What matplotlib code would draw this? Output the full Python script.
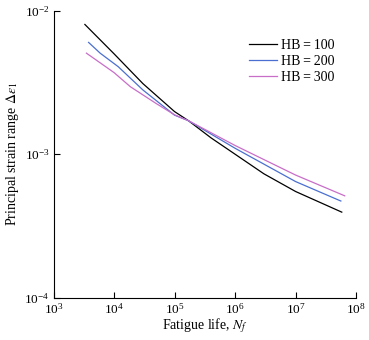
import matplotlib
matplotlib.use("Agg")
import matplotlib.pyplot as plt

plt.rcParams["font.family"] = ["Liberation Serif", "DejaVu Serif"]
plt.rcParams["mathtext.fontset"] = "stix"

# curves (fatigue life, strain range)
life_100 = [3.3e3, 1.0e4, 3.0e4, 1.0e5, 1.7e5, 4.0e5, 1.0e6, 3.0e6, 1.0e7, 5.8e7]
strain_100 = [8.0e-3, 5.0e-3, 3.1e-3, 1.98e-3, 1.71e-3, 1.3e-3, 1.0e-3, 7.3e-4, 5.5e-4, 3.95e-4]

life_200 = [3.8e3, 5.9e3, 1.17e4, 3.0e4, 1.0e5, 1.7e5, 1.0e6, 1.0e7, 5.6e7]
strain_200 = [6.0e-3, 5.05e-3, 4.07e-3, 2.8e-3, 1.87e-3, 1.71e-3, 1.1e-3, 6.45e-4, 4.72e-4]

life_300 = [3.5e3, 1.0e4, 1.86e4, 5.0e4, 1.0e5, 1.7e5, 1.0e6, 1.0e7, 6.5e7]
strain_300 = [5.05e-3, 3.7e-3, 2.95e-3, 2.25e-3, 1.88e-3, 1.71e-3, 1.15e-3, 7.16e-4, 5.13e-4]

labels = ["HB\u2009=\u2009100", "HB\u2009=\u2009200", "HB\u2009=\u2009300"]

fig = plt.figure(figsize=(3.69, 3.40), dpi=100)
ax = fig.add_axes([0.145, 0.124, 0.82, 0.845])

ax.plot(life_100, strain_100, color="black", lw=0.9, label=labels[0])
ax.plot(life_200, strain_200, color="#4a6fd0", lw=0.9, label=labels[1])
ax.plot(life_300, strain_300, color="#c86ec8", lw=0.9, label=labels[2])

ax.set_xscale("log")
ax.set_yscale("log")
ax.set_xlim(1e3, 1e8)
ax.set_ylim(1e-4, 1e-2)
ax.minorticks_off()
ax.tick_params(direction="in", length=4, width=0.8, labelsize=9.5, pad=3)
ax.spines["top"].set_visible(False)
ax.spines["right"].set_visible(False)

ax.set_xlabel(r"Fatigue life, $N_f$", fontsize=10, labelpad=0)
ax.set_ylabel(r"Principal strain range $\Delta\varepsilon_1$", fontsize=10, labelpad=2)

ax.legend(loc="upper right", bbox_to_anchor=(0.93, 0.90), frameon=False, fontsize=10,
          borderpad=0, borderaxespad=0,
          handlelength=2.0, handletextpad=0.3, labelspacing=0.2)

fig.savefig("out.png", dpi=100)
